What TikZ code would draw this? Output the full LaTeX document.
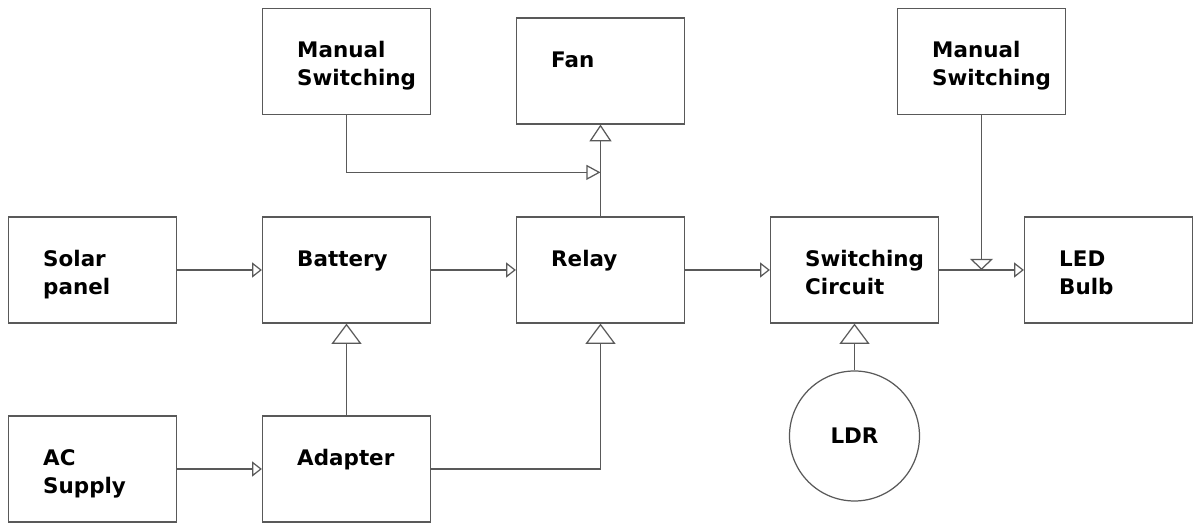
\documentclass[tikz,border=0pt]{standalone}
\usepackage{fontspec}
\setmainfont{DejaVu Sans}
\usetikzlibrary{arrows.meta, positioning}

\tikzset{
    block/.style = {rectangle, draw=black!65, line width=0.7pt,
        minimum width=3.36cm, minimum height=2.12cm, inner sep=0pt},
    txt/.style = {anchor=base west, align=left, inner sep=0pt,
        xshift=0.7cm, yshift=-1.0cm,
        font=\fontsize{12.2}{15.9}\selectfont\bfseries},
    twoline/.style = {txt, yshift=-15.9pt},
    wire/.style = {draw=black!65, line width=0.7pt},
    harrow/.style = {wire, -{Triangle[open, length=5.5pt, width=8.5pt]}},
    joinarrow/.style = {wire, -{Triangle[open, length=8pt, width=8.5pt]}},
    midarrow/.style = {wire, -{Triangle[open, length=9.5pt, width=12.5pt]}},
    downarrow/.style = {wire, -{Triangle[open, length=6.3pt, width=13pt]}},
    bigarrow/.style = {wire, -{Triangle[open, length=11.5pt, width=17pt]}}
}

\begin{document}
\begin{tikzpicture} [node distance = 3.98cm and 5.08cm,
            on grid]

            \path[use as bounding box] (-1.85,-5.06) rectangle (22.01,5.40);

            % Main row
            \node (solar) [block] {};
            \node (battery) [block, right = of solar] {};
            \node (relay) [block, right = of battery] {};
            \node (switch) [block, right = of relay] {};
            \node (led) [block, right = of switch] {};

            % Supply row
            \node (ac) [block, below = of solar] {};
            \node (adapter) [block, below = of battery] {};

            % Top row
            \node (manual1) [block, above = 4.17cm of battery] {};
            \node (fan) [block, above = of relay] {};
            \node (manual2) [block,
                above right = 4.17cm and 2.54cm of switch] {};

            % Sensor
            \node (ldr) [circle, draw=black!65, line width=0.7pt,
                minimum size=2.6cm, inner sep=0pt,
                below = 3.32cm of switch,
                font=\fontsize{12.2}{15.9}\selectfont\bfseries] {LDR};

            % Labels
            \node (solar-t) [twoline] at (solar.north west) {Solar\\panel};
            \node (battery-t) [txt] at (battery.north west) {Battery};
            \node (relay-t) [txt] at (relay.north west) {Relay};
            \node (switch-t) [twoline] at (switch.north west) {Switching\\Circuit};
            \node (led-t) [twoline] at (led.north west) {LED\\Bulb};
            \node (ac-t) [twoline] at (ac.north west) {AC\\Supply};
            \node (adapter-t) [txt] at (adapter.north west) {Adapter};
            \node (manual1-t) [twoline] at (manual1.north west) {Manual\\Switching};
            \node (fan-t) [txt] at (fan.north west) {Fan};
            \node (manual2-t) [twoline] at (manual2.north west) {Manual\\Switching};

            % Junctions
            \coordinate (fanjoin) at ([yshift=0.88cm]relay.north);
            \coordinate (ledjoin) at (manual2 |- led);

            % Arrows
            \draw [harrow] (solar) -- (battery);
            \draw [harrow] (battery) -- (relay);
            \draw [harrow] (relay) -- (switch);
            \draw [harrow] (switch) -- (led);
            \draw [harrow] (ac) -- (adapter);
            \draw [bigarrow] (adapter) -- (battery);
            \draw [bigarrow] (adapter) -| (relay);
            \draw [midarrow] (relay) -- (fan);
            \draw [joinarrow] (manual1) |- (fanjoin);
            \draw [downarrow] (manual2) -- (ledjoin);
            \draw [bigarrow] (ldr) -- (switch);
        \end{tikzpicture}
\end{document}
